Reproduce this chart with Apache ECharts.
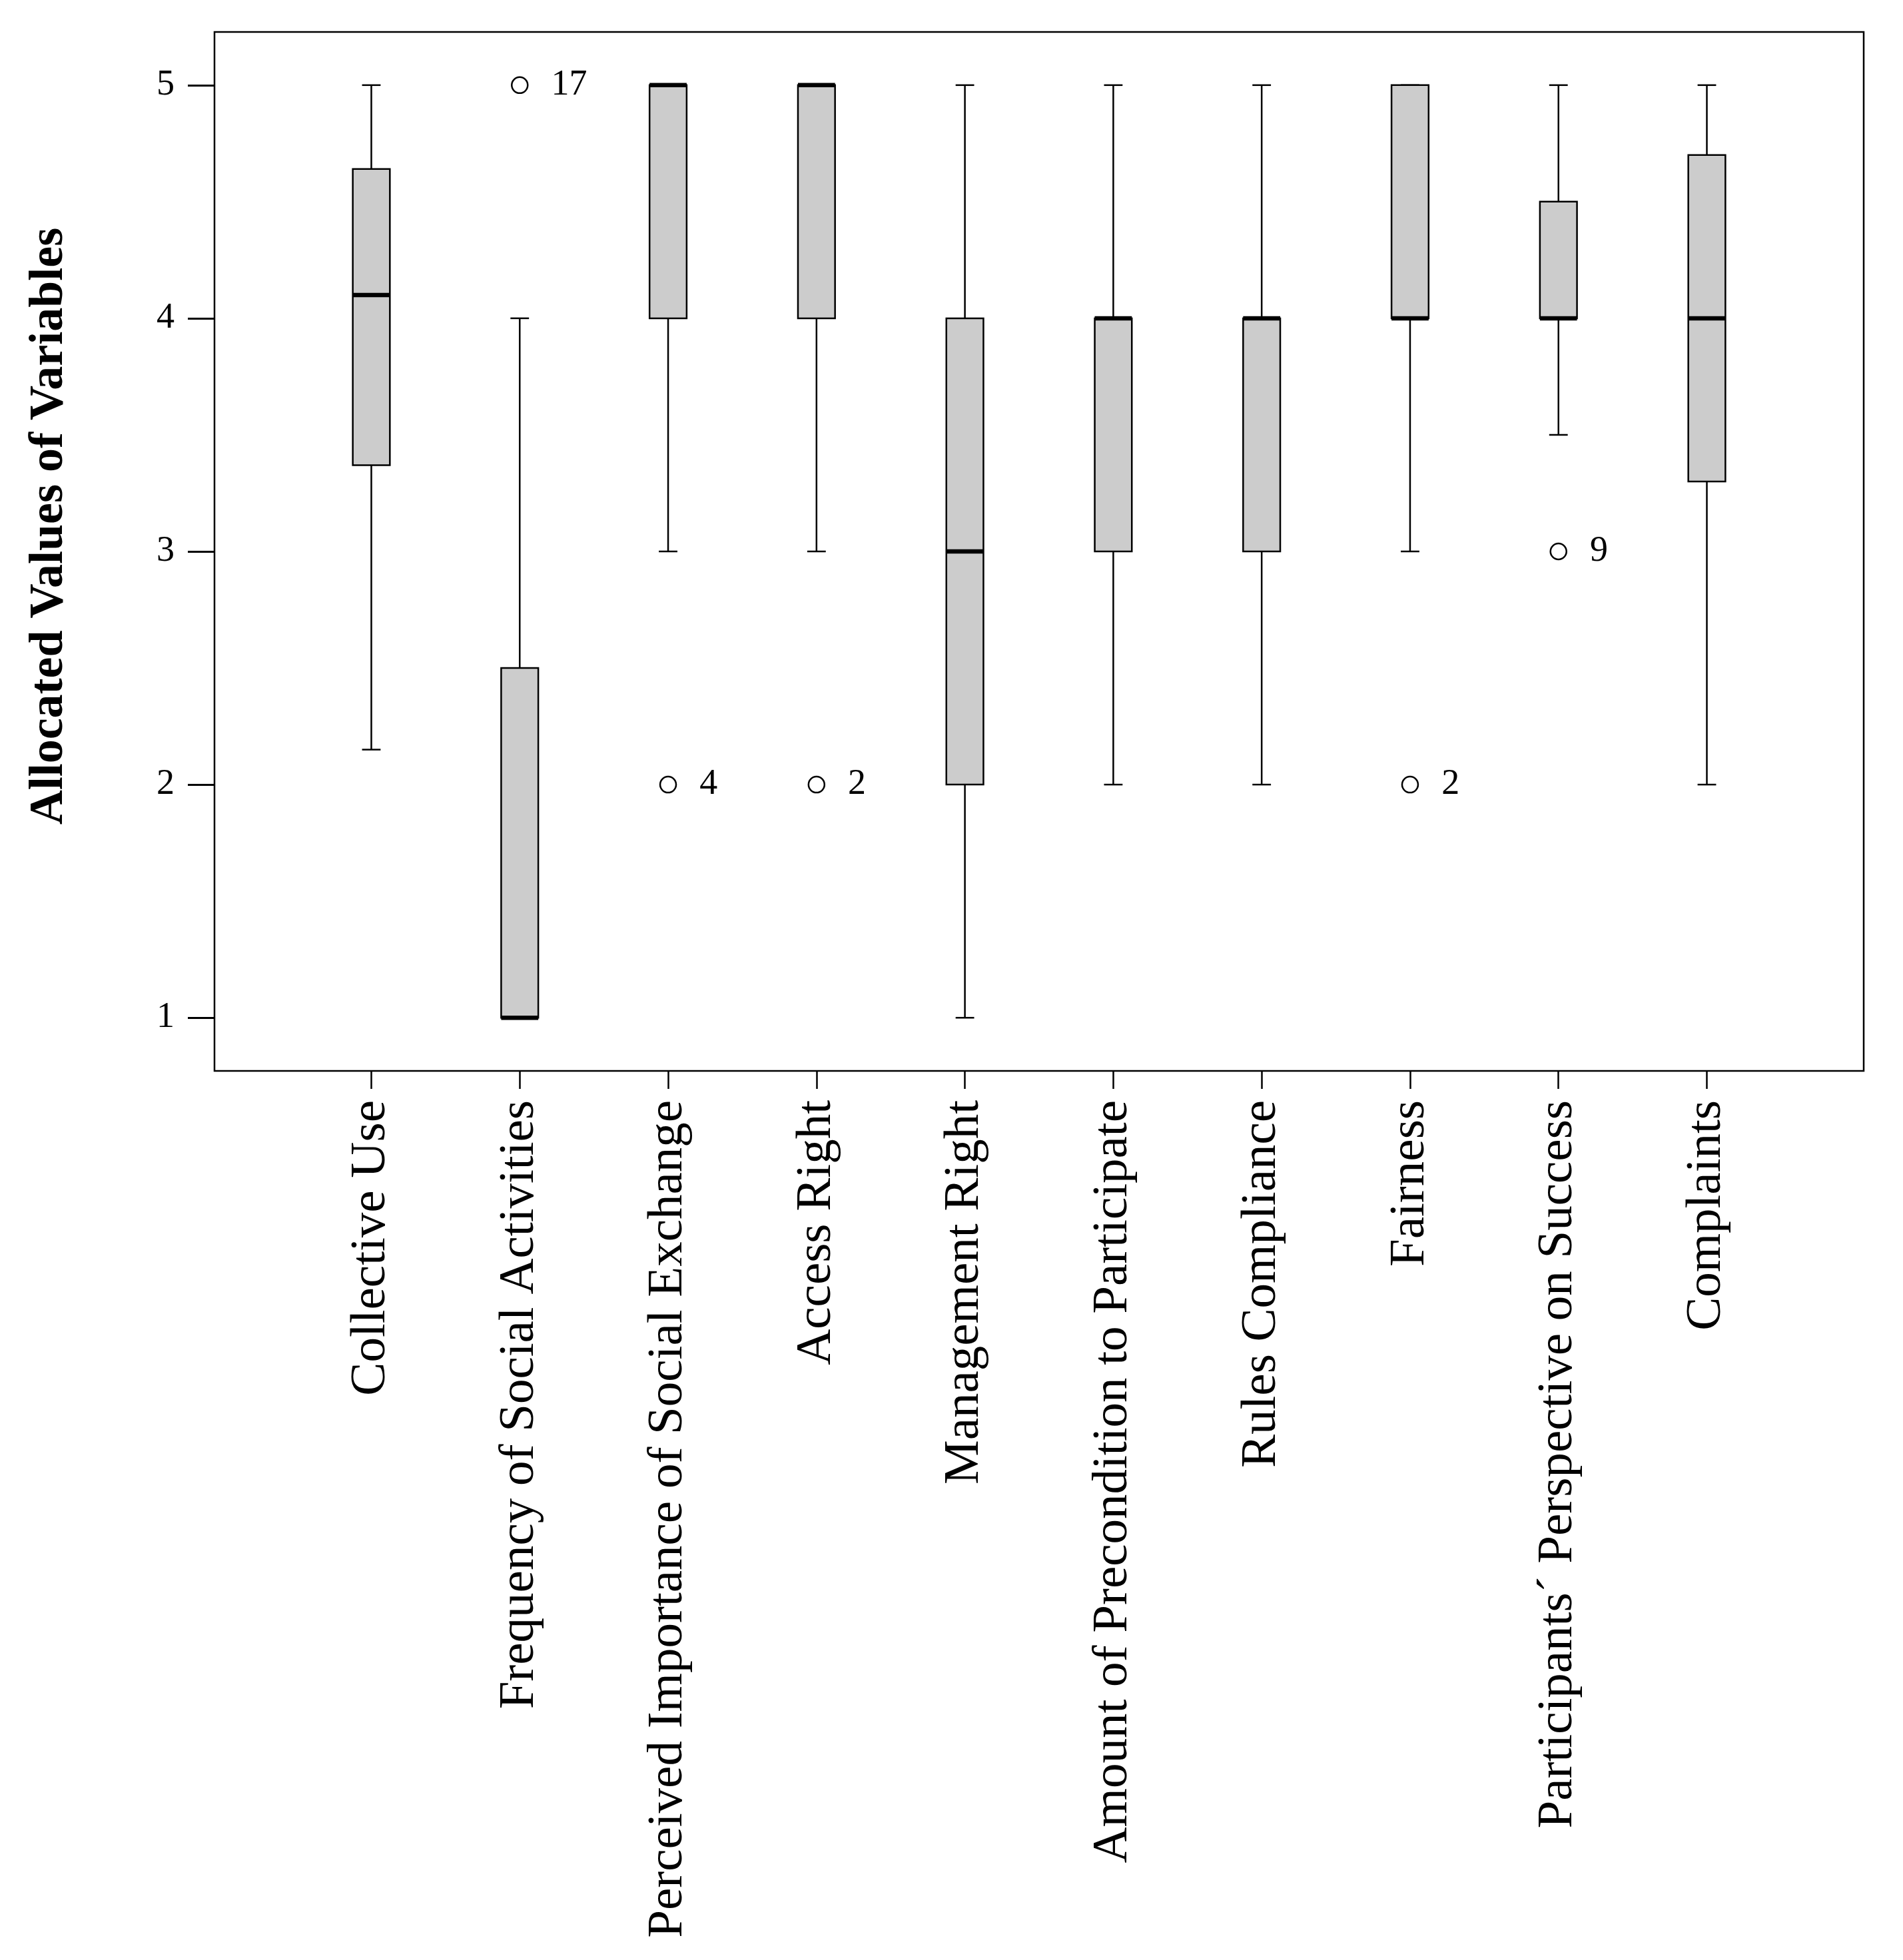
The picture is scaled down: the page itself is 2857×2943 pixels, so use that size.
<!DOCTYPE html>
<html>
<head>
<meta charset="utf-8">
<script src="https://cdn.jsdelivr.net/npm/echarts@6/dist/echarts.min.js"></script>
<style>
html,body{margin:0;padding:0;background:#fff;}
#chart{width:2857px;height:2943px;}
</style>
</head>
<body>
<div id="chart"></div>
<script>
const categories = [
  'Collective Use',
  'Frequency of Social Activities',
  'Perceived Importance of Social Exchange',
  'Access Right',
  'Management Right',
  'Amount of Precondition to Participate',
  'Rules Compliance',
  'Fairness',
  'Participants\u00B4 Perspective on Success',
  'Complaints'
];
const whiskerLow  = [2.15, 1,   3, 3, 1, 2, 2, 3, 3.5, 2];
const lowerQuart  = [3.37, 1,   4, 4, 2, 3, 3, 4, 4,   3.3];
const medians     = [4.1,  1,   5, 5, 3, 4, 4, 4, 4,   4];
const upperQuart  = [4.64, 2.5, 5, 5, 4, 4, 4, 5, 4.5, 4.7];
const whiskerHigh = [5,    4,   5, 5, 5, 5, 5, 5, 5,   5];

const outlierCategory = [1, 2, 3, 7, 8];
const outlierValue    = [5, 2, 2, 2, 3];
const outlierId       = ['17', '4', '2', '2', '9'];

const yTicks = [1, 2, 3, 4, 5];
const yTitle = 'Allocated Values of Variables';

const FONT = '"Liberation Serif", "DejaVu Serif", serif';
const LW = 2.5;
const BOX_W = 0.25;
const CAP_W = 0.125;
const X_MIN = -1.057, X_MAX = 10.057;
const Y_MIN = 0.772, Y_MAX = 5.228;
const TICK_LEN = 27;

const boxData = categories.map((c, i) => [i, whiskerLow[i], lowerQuart[i], medians[i], upperQuart[i], whiskerHigh[i]]);
const outlierData = outlierCategory.map((c, i) => ({ value: [c, outlierValue[i]], id: outlierId[i] }));
const catIdx = categories.map((c, i) => i);

function renderBox(params, api) {
  const x = api.value(0);
  const lo = api.value(1), q1 = api.value(2), md = api.value(3), q3 = api.value(4), hi = api.value(5);
  const pLo = api.coord([x, lo]), pQ1 = api.coord([x, q1]), pMd = api.coord([x, md]);
  const pQ3 = api.coord([x, q3]), pHi = api.coord([x, hi]);
  const bw = api.size([BOX_W, 0])[0];
  const cw = api.size([CAP_W, 0])[0];
  const cx = pMd[0];
  const ls = { stroke: '#000', lineWidth: LW };
  const ch = [];
  if (pLo[1] > pQ1[1]) {
    ch.push({ type: 'line', shape: { x1: cx, y1: pLo[1], x2: cx, y2: pQ1[1] }, style: ls });
  }
  ch.push({ type: 'line', shape: { x1: cx - cw / 2, y1: pLo[1], x2: cx + cw / 2, y2: pLo[1] }, style: ls });
  if (pHi[1] < pQ3[1]) {
    ch.push({ type: 'line', shape: { x1: cx, y1: pQ3[1], x2: cx, y2: pHi[1] }, style: ls });
  }
  ch.push({ type: 'line', shape: { x1: cx - cw / 2, y1: pHi[1], x2: cx + cw / 2, y2: pHi[1] }, style: ls });
  ch.push({ type: 'rect', shape: { x: cx - bw / 2, y: pQ3[1], width: bw, height: pQ1[1] - pQ3[1] },
            style: { fill: '#cccccc', stroke: '#000', lineWidth: LW } });
  ch.push({ type: 'line', shape: { x1: cx - bw / 2, y1: pMd[1], x2: cx + bw / 2, y2: pMd[1] },
            style: { stroke: '#000', lineWidth: 6.5 } });
  return { type: 'group', children: ch };
}

const chart = echarts.init(document.getElementById('chart'), null, { renderer: 'canvas' });
chart.setOption({
  backgroundColor: '#ffffff',
  animation: false,
  grid: {
    left: 322, top: 48, width: 2476, height: 1560,
    show: true, borderColor: '#000', borderWidth: LW, backgroundColor: 'transparent'
  },
  xAxis: {
    type: 'value', min: X_MIN, max: X_MAX,
    position: 'bottom',
    axisLine: { show: false, onZero: false },
    splitLine: { show: false },
    axisTick: { show: true, customValues: catIdx, length: TICK_LEN, lineStyle: { color: '#000', width: LW } },
    axisLabel: {
      customValues: catIdx,
      formatter: v => categories[Math.round(v)],
      rotate: 90, margin: 44,
      fontFamily: FONT, fontSize: 75, color: '#000'
    }
  },
  yAxis: {
    type: 'value', min: Y_MIN, max: Y_MAX,
    position: 'left',
    axisLine: { show: false, onZero: false },
    splitLine: { show: false },
    axisTick: { show: true, customValues: yTicks, length: 40, lineStyle: { color: '#000', width: 3 } },
    axisLabel: {
      customValues: yTicks,
      margin: 60,
      fontFamily: FONT, fontSize: 54, color: '#000'
    }
  },
  graphic: [{
    type: 'text',
    x: 74, y: 790,
    rotation: Math.PI / 2,
    style: {
      text: yTitle,
      font: 'bold 72px ' + FONT,
      fill: '#000',
      textAlign: 'center',
      textVerticalAlign: 'middle'
    }
  }],
  series: [
    {
      type: 'custom',
      renderItem: renderBox,
      encode: { x: 0, y: [1, 2, 3, 4, 5] },
      data: boxData,
      z: 2
    },
    {
      type: 'scatter',
      symbol: 'circle',
      symbolSize: 24,
      itemStyle: { color: '#fff', borderColor: '#000', borderWidth: LW, opacity: 1 },
      label: {
        show: true, position: 'right', distance: 34,
        formatter: p => p.data.id,
        fontFamily: FONT, fontSize: 54, color: '#000'
      },
      data: outlierData,
      z: 3
    }
  ]
});
</script>
</body>
</html>
